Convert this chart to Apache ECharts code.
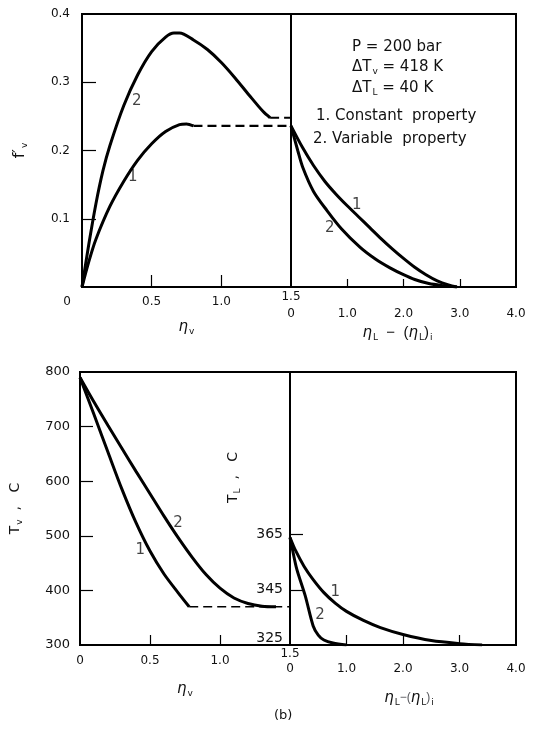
<!DOCTYPE html>
<html>
<head>
<meta charset="utf-8">
<script src="https://cdn.jsdelivr.net/npm/echarts@6/dist/echarts.min.js"></script>
<style>
  html, body { margin: 0; padding: 0; background: #fff; }
  #chart { width: 539px; height: 732px; }
</style>
</head>
<body>
<div id="chart"></div>
<script>
// (a) f'v against eta_v, vapour side
var etaV1 = [0, 0.05, 0.1, 0.2, 0.3, 0.4, 0.5, 0.6, 0.7, 0.75, 0.8];
var fv1 = [0, 0.038, 0.07, 0.118, 0.155, 0.186, 0.21, 0.228, 0.238, 0.239, 0.236];
var fv1Dash = [[0.8, 0.236], [1.5, 0.236]];
var etaV2 = [0, 0.05, 0.1, 0.15, 0.2, 0.3, 0.4, 0.5, 0.6, 0.66, 0.7, 0.8, 0.9, 1.0, 1.1, 1.2, 1.3, 1.35];
var fv2 = [0, 0.064, 0.122, 0.17, 0.207, 0.266, 0.311, 0.345, 0.366, 0.372, 0.372, 0.362, 0.348, 0.329, 0.306, 0.281, 0.257, 0.248];
var fv2Dash = [[1.35, 0.248], [1.5, 0.248]];

// (a) liquid side, eta_L - (eta_L)i
var etaLa1 = [0, 0.2, 0.4, 0.6, 0.8, 1.0, 1.2, 1.4, 1.6, 1.8, 2.0, 2.2, 2.4, 2.6, 2.8, 2.95];
var fL1 = [0.236, 0.205, 0.178, 0.155, 0.136, 0.119, 0.103, 0.087, 0.071, 0.056, 0.042, 0.029, 0.018, 0.009, 0.003, 0];
var etaLa2 = [0, 0.12, 0.21, 0.4, 0.64, 0.9, 1.23, 1.5, 1.76, 2.0, 2.2, 2.45, 2.7, 2.95];
var fL2 = [0.236, 0.2, 0.175, 0.14, 0.112, 0.085, 0.058, 0.041, 0.028, 0.018, 0.011, 0.005, 0.002, 0];

// (b) Tv against eta_v
var etaVb1 = [0, 0.1, 0.2, 0.3, 0.4, 0.5, 0.6, 0.7, 0.78];
var tv1 = [790, 722, 653, 585, 524, 472, 430, 396, 370];
var tv1Dash = [[0.78, 370], [1.5, 370]];
var etaVb2 = [0, 0.1, 0.2, 0.3, 0.4, 0.5, 0.6, 0.7, 0.8, 0.9, 1.0, 1.1, 1.2, 1.3, 1.4];
var tv2 = [790, 745, 702, 660, 618, 577, 536, 497, 461, 429, 404, 386, 376, 371, 370];

// (b) TL against eta_L - (eta_L)i
var etaLb1 = [0, 0.1, 0.25, 0.4, 0.6, 0.8, 1.0, 1.3, 1.6, 2.0, 2.5, 3.0, 3.4];
var tL1 = [364, 359.2, 353.5, 349, 344, 340.2, 337.2, 333.9, 331.3, 328.8, 326.6, 325.5, 325];
var etaLb2 = [0, 0.04, 0.12, 0.27, 0.41, 0.5, 0.6, 0.76, 1.0];
var tL2 = [364, 360, 352.5, 342.8, 331.9, 328.6, 326.8, 325.7, 325];

// curve numbers [x, y, text]
var tagsA1 = [[0.393, 0.273, '2'], [0.364, 0.161, '1']];
var tagsA2 = [[1.17, 0.12, '1'], [0.69, 0.086, '2']];
var tagsB1 = [[0.7, 523, '2'], [0.43, 474, '1']];
var tagsB2 = [[0.8, 344, '1'], [0.53, 335.9, '2']];

var tvLabels = [325, 345, 365];
var tvTicks = [345, 365];

function pairs(xs, ys) {
	var out = [];
	for (var i = 0; i < xs.length; i++) out.push([xs[i], ys[i]]);
	return out;
}

var font = 'DejaVu Sans';
var ink = '#111';
var sub = { fontSize: 9, fontFamily: font, color: ink, padding: [9, 0, 0, 1] };
var greek = { fontFamily: font, fontSize: 15, color: ink, fontStyle: 'italic' };

function grid(left, top, width) {
	return {
		left: left, top: top, width: width, height: 273,
		show: true, borderColor: '#000', borderWidth: 2,
		containLabel: false, outerBoundsMode: 'none'
	};
}

function lineSeries(xi, data, dashed) {
	return {
		type: 'line', xAxisIndex: xi, yAxisIndex: xi,
		data: data, showSymbol: false, smooth: dashed ? false : 0.3,
		silent: true,
		lineStyle: dashed
			? { color: '#000', width: xi < 2 ? 2.2 : 1.4, type: [9, 5] }
			: { color: '#000', width: 3 }
	};
}

function tagSeries(xi, data) {
	return {
		type: 'scatter', xAxisIndex: xi, yAxisIndex: xi,
		data: data, symbolSize: 1, itemStyle: { color: 'rgba(0,0,0,0)' },
		label: {
			show: true, position: 'inside', color: ink, fontFamily: font, fontSize: 15,
			formatter: function(p) { return p.value[2]; }
		}
	};
}

var baseLabel = { color: ink, fontFamily: font, fontSize: 12 };
var tickStyle = { color: '#000', width: 1.2 };
var note = '15px "DejaVu Sans"';

var myChart = echarts.init(document.getElementById('chart'), null, { renderer: 'canvas' });

var option = {
	backgroundColor: '#fff',
	animation: false,
	grid: [
		grid(82, 14, 209),
		grid(291, 14, 225),
		grid(80, 372, 210),
		grid(290, 372, 226)
	],
	xAxis: [
		{
			gridIndex: 0, type: 'value', min: 0, max: 1.5, interval: 0.5,
			axisLine: { show: false }, splitLine: { show: false },
			axisTick: { inside: true, length: 12, customValues: [0.5, 1.0], lineStyle: tickStyle },
			axisLabel: Object.assign({}, baseLabel, {
				margin: 9,
				formatter: function(v) {
					if (v === 0) return '{o|0}';
					if (v === 1.5) return '';
					return v.toFixed(1);
				},
				rich: { o: { color: ink, fontFamily: font, fontSize: 12, padding: [0, 30, 0, 0] } }
			}),
			name: '{g|η}{s|v}', nameLocation: 'middle', nameGap: 31,
			nameTextStyle: { rich: { g: greek, s: sub } }
		},
		{
			gridIndex: 1, type: 'value', min: 0, max: 4, interval: 1,
			axisLine: { show: false }, splitLine: { show: false },
			axisTick: { inside: true, length: 8, customValues: [1, 2, 3], lineStyle: tickStyle },
			axisLabel: Object.assign({}, baseLabel, {
				margin: 1, lineHeight: 17, showMaxLabel: true,
				formatter: function(v) { return v === 0 ? '1.5\n0' : '\n' + v.toFixed(1); }
			}),
			name: '{g|η}{s|L}  −  ({g|η}{s|L}){s|i}', nameLocation: 'middle', nameGap: 37,
			nameTextStyle: { fontSize: 15, color: ink, padding: [0, 12, 0, 0], rich: { g: greek, s: sub } }
		},
		{
			gridIndex: 2, type: 'value', min: 0, max: 1.5, interval: 0.5,
			axisLine: { show: false }, splitLine: { show: false },
			axisTick: { inside: true, length: 10, customValues: [0.5, 1.0], lineStyle: tickStyle },
			axisLabel: Object.assign({}, baseLabel, {
				margin: 10,
				formatter: function(v) { return v === 0 ? '0' : (v === 1.5 ? '' : v.toFixed(1)); }
			}),
			name: '{g|η}{s|v}', nameLocation: 'middle', nameGap: 35,
			nameTextStyle: { rich: { g: greek, s: sub } }
		},
		{
			gridIndex: 3, type: 'value', min: 0, max: 4, interval: 1,
			axisLine: { show: false }, splitLine: { show: false },
			axisTick: { inside: true, length: 10, customValues: [1, 2, 3], lineStyle: tickStyle },
			axisLabel: Object.assign({}, baseLabel, {
				margin: 1, lineHeight: 15, showMaxLabel: true,
				formatter: function(v) { return v === 0 ? '1.5\n0' : '\n' + v.toFixed(1); }
			}),
			name: '{g|η}{s|L}−({g|η}{s|L}){s|i}', nameLocation: 'middle', nameGap: 44,
			nameTextStyle: { padding: [0, 0, 0, 12], rich: { g: greek, s: sub } }
		}
	],
	yAxis: [
		{
			gridIndex: 0, type: 'value', min: 0, max: 0.4, interval: 0.1,
			axisLine: { show: false }, splitLine: { show: false },
			axisTick: { inside: true, length: 14, customValues: [0.1, 0.2, 0.3], lineStyle: tickStyle },
			axisLabel: Object.assign({}, baseLabel, {
				margin: 12,
				formatter: function(v) { return v === 0 ? '' : v.toFixed(1); }
			}),
			name: "{g|f′}{s|v}", nameLocation: 'middle', nameGap: 53, nameRotate: 90,
			nameTextStyle: { rich: { g: { fontFamily: font, fontSize: 16, color: ink }, s: sub } }
		},
		{
			gridIndex: 1, type: 'value', min: 0, max: 0.4,
			axisLine: { show: false }, axisTick: { show: false }, axisLabel: { show: false }, splitLine: { show: false }
		},
		{
			gridIndex: 2, type: 'value', min: 300, max: 800, interval: 100,
			axisLine: { show: false }, splitLine: { show: false },
			axisTick: { inside: true, length: 13, customValues: [400, 500, 600, 700], lineStyle: tickStyle },
			axisLabel: Object.assign({}, baseLabel, { margin: 10, fontSize: 13 }),
			name: 'T{s|v}  ,   C', nameLocation: 'middle', nameGap: 56, nameRotate: 90,
			nameTextStyle: { fontFamily: font, fontSize: 14, color: ink, rich: { s: sub } }
		},
		{
			gridIndex: 3, type: 'value', min: 325, max: 424,
			axisLine: { show: false }, splitLine: { show: false },
			axisTick: { inside: true, length: 13, customValues: tvTicks, lineStyle: tickStyle },
			axisLabel: Object.assign({}, baseLabel, {
				margin: 7, fontSize: 14, customValues: tvLabels,
				formatter: function(v) { return v === 325 ? '{lo|325}' : String(v); },
				rich: { lo: { fontFamily: font, fontSize: 14, color: ink, padding: [0, 0, 14, 0] } }
			}),
			name: 'T{s|L}  ,   C', nameLocation: 'middle', nameGap: 48, nameRotate: 90,
			nameTextStyle: { fontFamily: font, fontSize: 14, color: ink, padding: [0, 0, 0, 62], rich: { s: sub } }
		}
	],
	graphic: [
		{ type: 'text', left: 352, top: 40, style: { text: 'P = 200 bar', font: note, fill: ink } },
		{ type: 'text', left: 352, top: 60, style: {
			text: 'ΔT{s|v} = 418 K', font: note, fill: ink, rich: { s: sub } } },
		{ type: 'text', left: 352, top: 81, style: {
			text: 'ΔT{s|L} = 40 K', font: note, fill: ink, rich: { s: sub } } },
		{ type: 'text', left: 316, top: 109, style: { text: '1. Constant  property', font: note, fill: ink } },
		{ type: 'text', left: 313, top: 132, style: { text: '2. Variable  property', font: note, fill: ink } },
		{ type: 'text', left: 274, top: 709, style: { text: '(b)', font: '13px "DejaVu Sans"', fill: ink } }
	],
	series: [
		lineSeries(0, pairs(etaV1, fv1)),
		lineSeries(0, fv1Dash, true),
		lineSeries(0, pairs(etaV2, fv2)),
		lineSeries(0, fv2Dash, true),
		tagSeries(0, tagsA1),
		lineSeries(1, pairs(etaLa1, fL1)),
		lineSeries(1, pairs(etaLa2, fL2)),
		tagSeries(1, tagsA2),
		lineSeries(2, pairs(etaVb1, tv1)),
		lineSeries(2, tv1Dash, true),
		lineSeries(2, pairs(etaVb2, tv2)),
		tagSeries(2, tagsB1),
		lineSeries(3, pairs(etaLb1, tL1)),
		lineSeries(3, pairs(etaLb2, tL2)),
		tagSeries(3, tagsB2)
	]
};

myChart.setOption(option);
</script>
</body>
</html>
